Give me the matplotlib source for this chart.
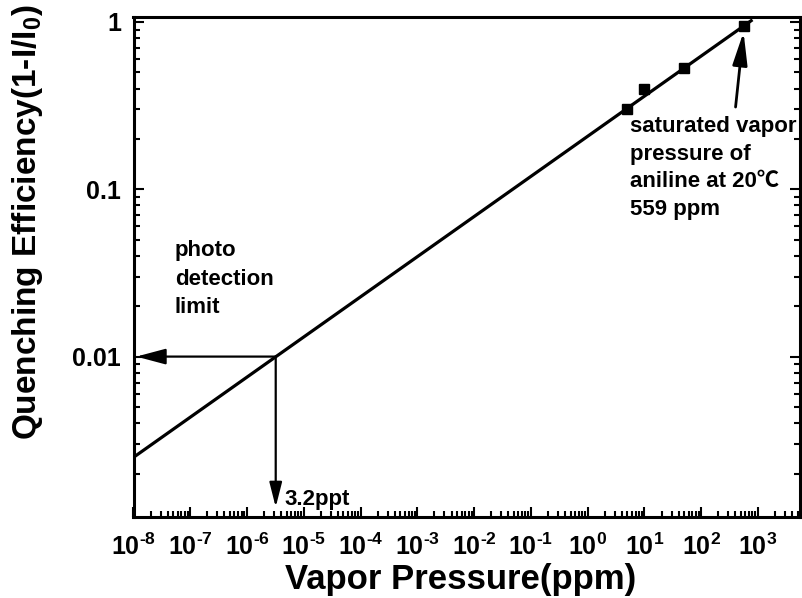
import math
import matplotlib
matplotlib.use("Agg")
import matplotlib.pyplot as plt
from matplotlib.ticker import FixedLocator, FuncFormatter, LogLocator, NullFormatter

plt.rcParams['font.family'] = ['Liberation Sans', 'Noto Sans CJK SC', 'DejaVu Sans']
plt.rcParams['font.weight'] = 'bold'
plt.rcParams['mathtext.fontset'] = 'custom'
plt.rcParams['mathtext.rm'] = 'Liberation Sans:bold'
plt.rcParams['mathtext.bf'] = 'Liberation Sans:bold'
plt.rcParams['mathtext.it'] = 'Liberation Sans:bold'
plt.rcParams['mathtext.default'] = 'bf'

# ---- data ----
pressure_ppm = [5, 10, 50, 559]            # measured points (x)
quench_eff = [0.30, 0.40, 0.53, 0.95]      # measured points (y)
fit_x = [1e-8, 800]                        # fitted line end points
fit_y = [2.5e-3, 1.03]
limit_x = 3.2e-6                           # 3.2 ppt detection limit (ppm)
limit_y = 0.01                             # photo detection limit
x_exponents = list(range(-8, 4))
y_ticks = [0.01, 0.1, 1]
y_ticklabels = ['0.01', '0.1', '1']

W, H = 802, 598
fig = plt.figure(figsize=(W / 100, H / 100), dpi=100)
ax = fig.add_axes([133.5 / W, 1 - 517 / H, (800 - 133.5) / W, (517 - 17) / H])
ax.set_xscale('log')
ax.set_yscale('log')
ax.set_xlim(1e-8, 5.5e3)
ax.set_ylim(1.1e-3, 1.07)

ax.plot(fit_x, fit_y, color='black', lw=2.3, solid_capstyle='butt')
ax.plot(pressure_ppm, quench_eff, linestyle='none', marker='s', ms=7.5, color='black')

# arrows
ax.annotate('', xy=(1.12e-8, limit_y), xytext=(limit_x, limit_y),
            arrowprops=dict(arrowstyle='-|>,head_length=18,head_width=4.8', mutation_scale=1,
                            lw=1.6, color='black', shrinkA=0, shrinkB=0))
ax.annotate('', xy=(limit_x, 1.26e-3), xytext=(limit_x, limit_y),
            arrowprops=dict(arrowstyle='-|>,head_length=15,head_width=3.8', mutation_scale=1,
                            lw=1.6, color='black', shrinkA=0, shrinkB=0))
ax.annotate('', xy=(557, 0.87), xytext=(403, 0.31),
            arrowprops=dict(arrowstyle='-|>,head_length=20,head_width=4.5', mutation_scale=1,
                            lw=2.0, color='black', shrinkA=0, shrinkB=0))


def ftext(px, py, s, **kw):
    fig.text(px / W, 1 - py / H, s, **kw)


ftext(175, 240, 'photo\ndetection\nlimit', fontsize=16, fontweight='bold',
      ha='left', va='top', linespacing=1.48)
ftext(630, 116, 'saturated vapor\npressure of\naniline at 20\u2103\n559 ppm',
      fontsize=16, fontweight='bold', ha='left', va='top', linespacing=1.42)
ftext(284, 505, '3.2ppt', fontsize=16, fontweight='bold', ha='left', va='baseline')

# ticks
ax.xaxis.set_major_locator(FixedLocator([10.0 ** e for e in x_exponents]))


def xfmt(v, p):
    e = round(math.log10(v))
    es = ('\u2010%d' % -e) if e < 0 else '%d' % e
    return r'$\mathbf{10^{%s}}$' % es


ax.xaxis.set_major_formatter(FuncFormatter(xfmt))
ax.xaxis.set_minor_locator(LogLocator(base=10, subs=range(2, 10), numticks=30))
ax.xaxis.set_minor_formatter(NullFormatter())
ax.yaxis.set_major_locator(FixedLocator(y_ticks))
ax.yaxis.set_major_formatter(FuncFormatter(
    lambda v, p: y_ticklabels[min(range(len(y_ticks)), key=lambda i: abs(y_ticks[i] - v))]))
ax.yaxis.set_minor_locator(LogLocator(base=10, subs=range(2, 10), numticks=30))
ax.yaxis.set_minor_formatter(NullFormatter())

ax.tick_params(which='both', direction='in', top=False, right=True, bottom=True, left=True,
               width=1.5, color='black')
ax.tick_params(which='major', length=7)
ax.tick_params(which='minor', length=4)
ax.tick_params(axis='x', which='major', labelsize=18, pad=12)
ax.tick_params(axis='y', which='major', labelsize=18, pad=9)
for lab in ax.get_xticklabels() + ax.get_yticklabels():
    lab.set_fontweight('bold')
for s in ax.spines.values():
    s.set_linewidth(2.2)

ax.set_xlabel('Vapor Pressure(ppm)', fontsize=25, fontweight='bold')
ax.xaxis.label.set_va('center')
ax.xaxis.set_label_coords((461 - 133.5) / 666.5, (517 - 580) / 500)
ax.set_ylabel(r'Quenching Efficiency(1-I/I$_\mathbf{0}$)', fontsize=24, fontweight='bold')
ax.yaxis.label.set_va('center')
ax.yaxis.set_label_coords((28 - 133.5) / 666.5, (517 - 222) / 500)

fig.savefig('out.png', dpi=100)
